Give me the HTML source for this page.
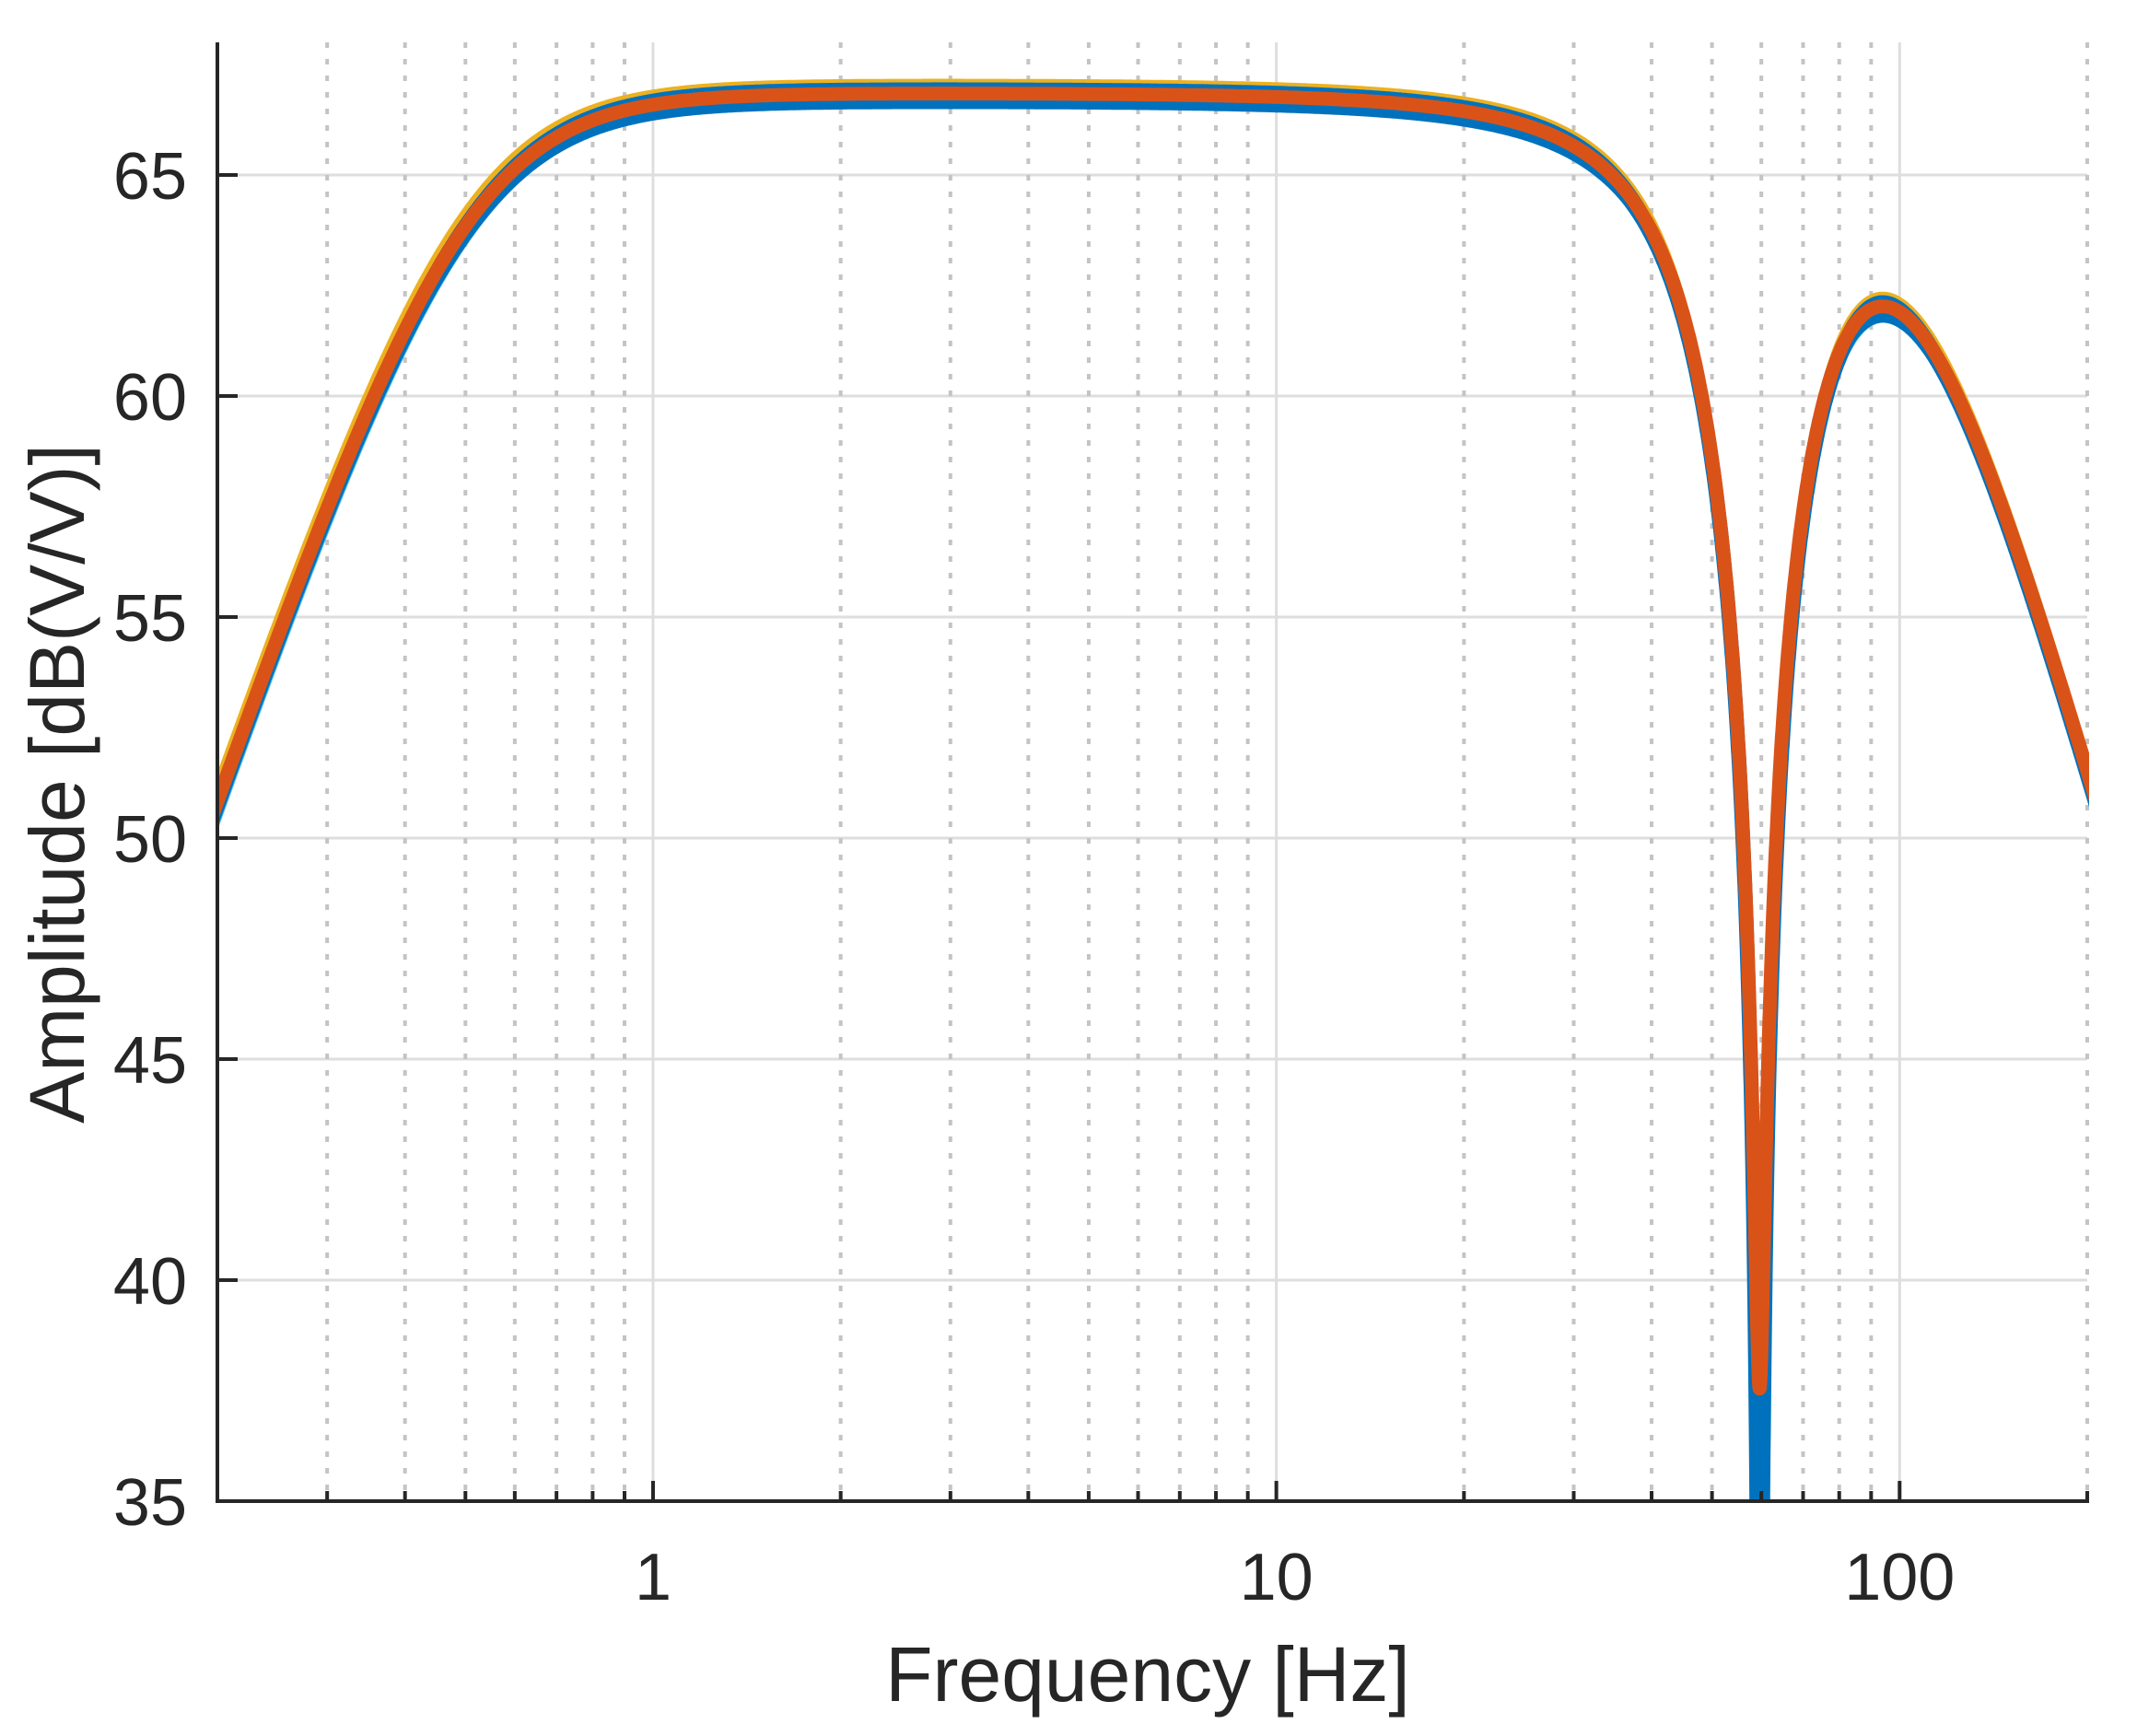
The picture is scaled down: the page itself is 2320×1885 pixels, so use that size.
<!DOCTYPE html>
<html><head><meta charset="utf-8">
<style>
html,body{margin:0;padding:0;background:#fff;width:2320px;height:1885px;overflow:hidden;}
svg{display:block;font-family:"Liberation Sans",Arial,sans-serif;}
</style></head>
<body>
<svg id="s" width="2320" height="1885" viewBox="0 0 2320 1885" xmlns="http://www.w3.org/2000/svg">
<rect width="2320" height="1885" fill="#fff"/>
<defs><clipPath id="c"><rect x="236" y="40" width="2032" height="1590"/></clipPath></defs>
<g id="grid"></g>
<g id="curves" clip-path="url(#c)"></g>
<g id="axes"></g>
<text x="1246" y="1847" font-size="84" text-anchor="middle" fill="#262626">Frequency [Hz]</text>
<text transform="translate(91,851) rotate(-90)" font-size="84" text-anchor="middle" fill="#262626">Amplitude [dB(V/V)]</text>
</svg>
<script>
var NS="http://www.w3.org/2000/svg";
function el(p,t,a,txt){var e=document.createElementNS(NS,t);for(var k in a)e.setAttribute(k,a[k]);if(txt!=null)e.textContent=txt;p.appendChild(e);return e;}
var X0=236,X1=2266,L0=Math.log10(0.2),L1=Math.log10(200);
function X(f){return X0+(Math.log10(f)-L0)/(L1-L0)*(X1-X0);}
function XL(l){return X0+(l-L0)/(L1-L0)*(X1-X0);}
var Yb=1630,dpp=48;function Y(d){return Yb-(d-35)*dpp;}
var Ytop=Y(68);
var g=document.getElementById('grid'),ax=document.getElementById('axes'),cv=document.getElementById('curves');
for(var d=40;d<=65;d+=5)el(g,'line',{x1:X0,x2:X1,y1:Y(d),y2:Y(d),stroke:'#dedede','stroke-width':3});
var minors=[],majors=[1,10,100];
[0.1,1,10,100].forEach(function(b){for(var k=2;k<=9;k++){var f=b*k;if(f>0.2&&f<=200)minors.push(f);}});
minors.push(200);
minors.forEach(function(f){el(g,'line',{x1:X(f),x2:X(f),y1:Ytop,y2:Yb,stroke:'#c4c4c4','stroke-width':4,'stroke-dasharray':'6 12'});});
majors.forEach(function(f){el(g,'line',{x1:X(f),x2:X(f),y1:Ytop,y2:Yb,stroke:'#dedede','stroke-width':3});});
function H(f,o){
  var K=66.85+o.k, fc1=0.5*(o.h||1), f0=59.6*(o.n||1), Q=1.2, fc2=100.8, dep=o.d;
  var hp=-10*Math.log10(1+Math.pow(fc1/f,4));
  var lp=-10*Math.log10(1+Math.pow(f/fc2,5));
  var a=f0*f0-f*f, b=f*f0/Q;
  var nt=10*Math.log10((a*a+dep*dep)/(a*a+b*b));
  return Math.max(30,K+hp+lp+nt);
}
function path(o){var s='';for(var x=-0.72;x<=2.32;x+=(x>1.6&&x<1.95)?0.0003:0.002){var v=H(Math.pow(10,x),o);
s+=(s?'L':'M')+XL(x).toFixed(1)+' '+Y(v).toFixed(1);}return s;}
var series=[
['#EDB120',{k:0.25,h:0.99,n:1.0,d:105},8],
['#A2142F',{k:0.14,h:0.995,n:0.997,d:105},6],
['#77AC30',{k:0.12,h:1.0,n:0.996,d:105},4],
['#0072BD',{k:0.2,h:1.0,n:1.0,d:105},5],
['#4DBEEE',{k:-0.25,h:1.01,n:1.004,d:105},8],
['#0072BD',{k:-0.3,h:1.008,n:1.002,d:105},5],
['#7E2F8E',{k:-0.18,h:1.012,n:0.998,d:105},5],
['#0072BD',{k:-0.1,h:1.0,n:1.001,d:5},16],
['#D95319',{k:0,h:1.0,n:1.0,d:105},15]];
series.forEach(function(s){el(cv,'path',{d:path(s[1]),fill:'none',stroke:s[0],'stroke-width':s[2],'stroke-linejoin':'round'});});
el(ax,'line',{x1:X0,x2:X0,y1:Ytop,y2:Yb+2,stroke:'#262626','stroke-width':4});
el(ax,'line',{x1:X0-2,x2:X1+2,y1:Yb,y2:Yb,stroke:'#262626','stroke-width':4});
for(var d=35;d<=65;d+=5){el(ax,'line',{x1:X0,x2:X0+22,y1:Y(d),y2:Y(d),stroke:'#262626','stroke-width':4});
el(ax,'text',{x:203,y:Y(d)+26,'font-size':72,'text-anchor':'end',fill:'#262626'},String(d));}
minors.forEach(function(f){el(ax,'line',{x1:X(f),x2:X(f),y1:Yb,y2:Yb-11,stroke:'#262626','stroke-width':4});});
majors.forEach(function(f){el(ax,'line',{x1:X(f),x2:X(f),y1:Yb,y2:Yb-22,stroke:'#262626','stroke-width':4});
el(ax,'text',{x:X(f),y:1737,'font-size':72,'text-anchor':'middle',fill:'#262626'},String(f));});
</script>
</body></html>
